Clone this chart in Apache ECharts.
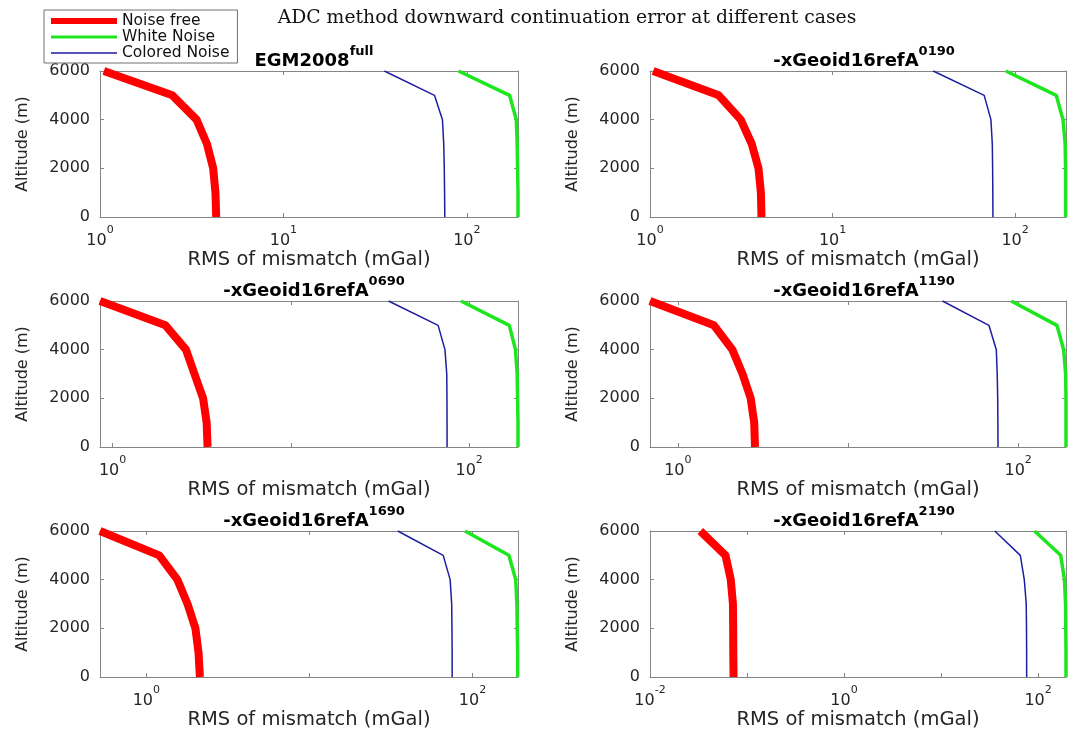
<!DOCTYPE html>
<html><head><meta charset="utf-8">
<script src="https://cdn.jsdelivr.net/npm/echarts@6/dist/echarts.min.js"></script>
<style>html,body{margin:0;padding:0;background:#fff}#c{width:1069px;height:736px}</style>
</head><body><div id="c"></div>
<script>
// ---- data ----
const altitudes = [0, 1000, 2000, 3000, 4000, 5000, 6000];
const panelNames = ['EGM2008', '-xGeoid16refA', '-xGeoid16refA', '-xGeoid16refA', '-xGeoid16refA', '-xGeoid16refA'];
const panelSups = ['full', '0190', '0690', '1190', '1690', '2190'];
// RMS of mismatch (mGal) per panel, aligned with altitudes
const noiseFree = [
  [4.30, 4.26, 4.14, 3.83, 3.36, 2.48, 1.05],
  [4.08, 4.05, 3.93, 3.61, 3.14, 2.38, 1.04],
  [3.41, 3.37, 3.22, 2.88, 2.58, 1.98, 0.85],
  [2.84, 2.81, 2.68, 2.40, 2.09, 1.63, 0.686],
  [2.13, 2.09, 2.00, 1.79, 1.55, 1.20, 0.52],
  [0.0727, 0.0722, 0.0720, 0.0716, 0.068, 0.060, 0.033]
];
const whiteNoise = [
  [190, 190, 189, 188, 186, 171, 90],
  [189, 189, 189, 188, 183, 168, 89],
  [188, 188, 187, 186, 182, 168, 90],
  [191, 191, 191, 190, 185, 169, 91],
  [189, 189, 188, 187, 184, 167, 90],
  [194, 194, 193, 192, 187, 171, 92]
];
const coloredNoise = [
  [75.8, 75.6, 75.3, 74.8, 73.6, 66.6, 35.5],
  [75.6, 75.5, 75.3, 75.0, 73.7, 67.7, 35.6],
  [75.2, 75.2, 75.1, 74.9, 73.2, 67.0, 35.3],
  [76.1, 76.0, 75.8, 75.3, 74.4, 67.3, 35.9],
  [75.0, 75.0, 74.8, 74.5, 72.9, 66.1, 34.8],
  [76.3, 76.2, 76.0, 75.5, 72.1, 65.6, 35.8]
];
const xMin = [1, 1, 0.85, 0.686, 0.52, 0.01];
const xMax = [190, 190, 188, 191, 190, 194];
const labelExps = [[0, 1, 2], [0, 1, 2], [0, 2], [0, 2], [0, 2], [-2, 0, 2]];
const yTicks = [0, 2000, 4000, 6000];
const seriesNames = ['Noise free', 'White Noise', 'Colored Noise'];

// ---- layout / style ----
const FONT = 'DejaVu Sans';
const colLeft = [100, 650], gridW = 418;
const rowTop = [71, 301, 531], gridH = 146;
const colors = {'Noise free': '#ff0000', 'White Noise': '#1ee61e', 'Colored Noise': '#1e1ea0'};
const widths = {'Noise free': 8, 'White Noise': 3.5, 'Colored Noise': 1.5};
const axisCol = '#858585', textCol = '#262626';

const grids = [], xAxes = [], yAxes = [], series = [], titles = [];
titles.push({
  text: 'ADC method downward continuation error at different cases',
  left: 562, top: 4, textAlign: 'center',
  textStyle: {fontFamily: 'DejaVu Serif', fontSize: 18.8, fontWeight: 'normal', color: '#111'}
});
for (let p = 0; p < 6; p++) {
  const left = colLeft[p % 2], top = rowTop[Math.floor(p / 2)];
  grids.push({left: left, top: top, width: gridW, height: gridH, containLabel: false});
  const exps = labelExps[p];
  const fmt = function (v) {
    const e = Math.log10(v), r = Math.round(e);
    if (Math.abs(e - r) < 1e-6 && exps.indexOf(r) >= 0) return '{b|10}{s|' + r + '}';
    return '';
  };
  const baseX = {
    type: 'log', logBase: 10, gridIndex: p, min: xMin[p], max: xMax[p],
    axisLine: {show: true, onZero: false, lineStyle: {color: axisCol, width: 1}},
    axisTick: {show: true, inside: true, length: 4, lineStyle: {color: axisCol}},
    splitLine: {show: false}
  };
  xAxes.push(Object.assign({}, baseX, {
    position: 'bottom',
    name: 'RMS of mismatch (mGal)', nameLocation: 'middle', nameGap: 32,
    nameTextStyle: {fontFamily: FONT, fontSize: 19.5, color: textCol},
    axisLabel: {
      show: true, margin: 8, formatter: fmt,
      rich: {
        b: {fontFamily: FONT, fontSize: 16, color: textCol, lineHeight: 24, verticalAlign: 'bottom'},
        s: {fontFamily: FONT, fontSize: 11, color: textCol, lineHeight: 12, verticalAlign: 'top'}
      }
    }
  }));
  xAxes.push(Object.assign({}, baseX, {position: 'top', axisLabel: {show: false}}));
  const baseY = {
    type: 'value', gridIndex: p, min: 0, max: 6000, interval: 2000,
    axisLine: {show: true, onZero: false, lineStyle: {color: axisCol, width: 1}},
    axisTick: {show: true, inside: true, length: 4, lineStyle: {color: axisCol}},
    splitLine: {show: false}
  };
  yAxes.push(Object.assign({}, baseY, {
    position: 'left',
    name: 'Altitude (m)', nameLocation: 'middle', nameGap: 69, nameRotate: 90,
    nameTextStyle: {fontFamily: FONT, fontSize: 16, color: textCol},
    axisLabel: {show: true, margin: 10, fontFamily: FONT, fontSize: 16, color: textCol,
      formatter: function (v) { return yTicks.indexOf(v) >= 0 ? String(v) : ''; }}
  }));
  yAxes.push(Object.assign({}, baseY, {position: 'right', axisLabel: {show: false}}));
  titles.push({
    text: '{b|' + panelNames[p] + '}{s|' + panelSups[p] + '}',
    left: left + gridW / 2, top: top - 31, textAlign: 'center',
    textStyle: {
      rich: {
        b: {fontFamily: FONT, fontSize: 18, fontWeight: 'bold', color: '#000', lineHeight: 25, verticalAlign: 'bottom'},
        s: {fontFamily: FONT, fontSize: 13, fontWeight: 'bold', color: '#000', lineHeight: 13, verticalAlign: 'top'}
      }
    }
  });
  const sets = [noiseFree[p], whiteNoise[p], coloredNoise[p]];
  sets.forEach(function (vals, k) {
    const name = seriesNames[k];
    series.push({
      type: 'line', name: name, xAxisIndex: p * 2, yAxisIndex: p * 2,
      data: altitudes.map(function (a, i) { return [vals[i], a]; }),
      symbol: 'none', showSymbol: false, clip: false, animation: false,
      lineStyle: {color: colors[name], width: widths[name], join: 'round', cap: 'butt'},
      itemStyle: {color: colors[name]}
    });
  });
}

const chart = echarts.init(document.getElementById('c'), null, {renderer: 'canvas'});
chart.setOption({
  animation: false,
  backgroundColor: '#fff',
  title: titles,
  legend: {
    orient: 'vertical', left: 44, top: 10,
    padding: [3, 8, 2, 7], itemGap: 0, itemWidth: 66, itemHeight: 14,
    borderColor: '#707070', borderWidth: 1, backgroundColor: '#fff',
    textStyle: {fontFamily: FONT, fontSize: 15.5, lineHeight: 16, color: '#111'},
    selectedMode: false,
    data: [
      {name: 'Noise free', icon: 'path://M0,0L0.01,0L0,0.01Z M0,4L66,4L66,10L0,10Z M66,14L65.99,14L66,13.99Z'},
      {name: 'White Noise', icon: 'path://M0,0L0.01,0L0,0.01Z M0,5.5L66,5.5L66,8.5L0,8.5Z M66,14L65.99,14L66,13.99Z'},
      {name: 'Colored Noise', icon: 'path://M0,0L0.01,0L0,0.01Z M0,6.25L66,6.25L66,7.75L0,7.75Z M66,14L65.99,14L66,13.99Z'}
    ]
  },
  grid: grids, xAxis: xAxes, yAxis: yAxes, series: series
});
</script></body></html>
